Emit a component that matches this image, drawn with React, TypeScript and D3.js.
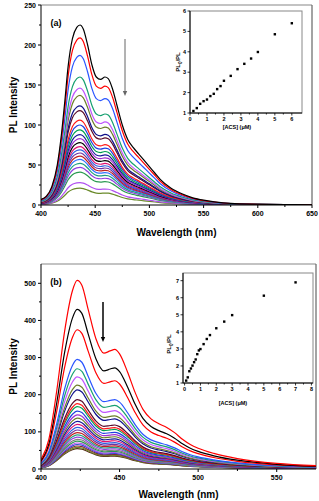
import React from 'react';
import * as d3 from 'd3';

// panel (a): black (top) curve, other curves scaled by peak
const waveA = [400, 405, 410, 415, 419, 422, 425, 429, 433, 436, 439, 443, 447, 451, 455, 459, 462, 466, 470, 475, 480, 485, 490, 495, 500, 505, 510, 520, 530, 540, 550, 560, 575, 600, 625, 650];
const topA = [7, 11, 23, 50, 90, 130, 173, 208, 222, 225, 220, 200, 175, 160, 157, 160, 158, 145, 125, 100, 82, 72, 64, 56, 48, 40, 32, 21, 14, 9, 6, 4, 2, 1, 0.5, 0.3];
const peaksA = [225, 209, 187, 160, 146, 137, 124, 118, 106, 100, 94, 88, 83, 78, 73, 69, 65, 61, 57, 52, 47, 41, 28, 21];
const colorsA = ['#000000', '#ff0000', '#2a55ff', '#17a070', '#c055ff', '#6d7d2a', '#10108a', '#5a0a2a', '#ff1a1a', '#2040e0', '#00a050', '#1a1a9a', '#a030d0', '#000000', '#e01070', '#3060e0', '#7030a0', '#c02020', '#3070ff', '#20a080', '#9040e0', '#2a9a50', '#b050f0', '#6a8a2a'];

// panel (b): red (top) curve
const waveB = [400, 405, 410, 415, 420, 423, 426, 430, 435, 440, 444, 447, 450, 455, 460, 465, 470, 475, 480, 485, 490, 495, 500, 510, 525, 550, 575];
const topB = [26, 80, 210, 370, 480, 508, 495, 430, 350, 312, 318, 322, 310, 262, 205, 160, 135, 122, 112, 98, 80, 66, 56, 42, 28, 15, 9];
const peaksB = [508, 430, 375, 295, 270, 248, 226, 213, 187, 176, 168, 156, 146, 137, 128, 120, 112, 105, 98, 92, 86, 80, 75, 70, 66, 62, 58, 55];
const colorsB = ['#ff0000', '#000000', '#ff0000', '#2a55ff', '#17a070', '#c055ff', '#6d7d2a', '#10108a', '#5a0a2a', '#ff1a1a', '#00a050', '#2040e0', '#a030d0', '#6d7d2a', '#1a1a9a', '#e01070', '#3060e0', '#7030a0', '#c02020', '#20a080', '#9040e0', '#808080', '#2a9a50', '#b050f0', '#3050d0', '#8a2a2a', '#6a8a2a', '#5a2a1a'];

// insets: PL0/PL vs [ACS]
const insetAx = [0.2, 0.4, 0.6, 0.8, 1.0, 1.2, 1.4, 1.6, 1.8, 2.0, 2.4, 2.8, 3.2, 3.6, 4.0, 5.0, 6.0];
const insetAy = [1.1, 1.24, 1.45, 1.58, 1.66, 1.83, 1.94, 2.17, 2.32, 2.58, 2.82, 3.15, 3.41, 3.67, 3.99, 4.86, 5.4];
const insetBx = [0.1, 0.2, 0.3, 0.4, 0.5, 0.6, 0.7, 0.8, 0.9, 1.0, 1.2, 1.4, 1.6, 2.0, 2.5, 3.0, 5.0, 7.0];
const insetBy = [1.14, 1.33, 1.69, 1.85, 2.02, 2.22, 2.38, 2.69, 2.91, 2.99, 3.28, 3.58, 3.81, 4.21, 4.6, 4.98, 6.12, 6.9];

const font = 'Liberation Sans, Arial, sans-serif';

type InsetProps = {
  xs: number[]; ys: number[]; box: { l: number; r: number; t: number; b: number };
  xDom: [number, number]; yDom: [number, number]; xTicks: number[]; yTicks: number[];
  xMinor: number[]; yLabelPos: [number, number]; xLabelPos: [number, number];
};

const Inset = (p: InsetProps) => {
  const x = d3.scaleLinear().domain(p.xDom).range([p.box.l, p.box.r]);
  const y = d3.scaleLinear().domain(p.yDom).range([p.box.b, p.box.t]);
  return (
    <g>
      <rect x={p.box.l} y={p.box.t} width={p.box.r - p.box.l} height={p.box.b - p.box.t} fill="#fff" stroke="#888" strokeWidth={1} />
      <line x1={p.box.l} x2={p.box.r} y1={p.box.b} y2={p.box.b} stroke="#000" />
      <line x1={p.box.l} x2={p.box.l} y1={p.box.t} y2={p.box.b} stroke="#000" />
      {p.xTicks.map(t => (
        <g key={'x' + t}>
          <line x1={x(t)} x2={x(t)} y1={p.box.b} y2={p.box.b + 2.5} stroke="#000" strokeWidth={0.8} />
          <text x={x(t)} y={p.box.b + 8} fontSize={5.5} fontWeight="bold" fontFamily={font} textAnchor="middle">{t}</text>
        </g>
      ))}
      {p.xMinor.map(t => (
        <line key={'m' + t} x1={x(t)} x2={x(t)} y1={p.box.b} y2={p.box.b + 1.5} stroke="#000" strokeWidth={0.8} />
      ))}
      {p.yTicks.map(t => (
        <g key={'y' + t}>
          <line x1={p.box.l - 2.5} x2={p.box.l} y1={y(t)} y2={y(t)} stroke="#000" strokeWidth={0.8} />
          <text x={p.box.l - 4} y={y(t) + 2} fontSize={5.5} fontWeight="bold" fontFamily={font} textAnchor="end">{t}</text>
        </g>
      ))}
      {p.xs.map((v, i) => (
        <rect key={i} x={x(v) - 1.2} y={y(p.ys[i]) - 1.2} width={2.4} height={2.4} fill="#000" />
      ))}
      <text transform={`translate(${p.yLabelPos[0]},${p.yLabelPos[1]}) rotate(-90)`} fontSize={6} fontWeight="bold" fontFamily={font} textAnchor="middle">
        PL<tspan fontSize={4.5} dy={1.5}>0</tspan><tspan dy={-1.5}>/PL</tspan>
      </text>
      <text x={p.xLabelPos[0]} y={p.xLabelPos[1]} fontSize={5.5} fontWeight="bold" fontFamily={font} textAnchor="middle">[ACS] (μM)</text>
    </g>
  );
};

type PanelProps = {
  wave: number[]; top: number[]; peaks: number[]; colors: string[];
  box: { l: number; r: number; t: number; b: number };
  xDom: [number, number]; yDom: [number, number];
  xTicks: number[]; xMinor: number[]; yTicks: number[]; yMinor: number[];
  label: string; arrow: { x: number; y1: number; y2: number; color: string; w: number };
  titleY: number; children?: React.ReactNode;
};

const Panel = (p: PanelProps) => {
  const x = d3.scaleLinear().domain(p.xDom).range([p.box.l, p.box.r]);
  const y = d3.scaleLinear().domain(p.yDom).range([p.box.b, p.box.t]);
  const top = p.peaks[0];
  const line = d3.line<number>()
    .x((_, i) => x(p.wave[i]))
    .y(d => y(d))
    .curve(d3.curveMonotoneX);
  const clipId = 'clip' + p.label;
  return (
    <g>
      <defs>
        <clipPath id={clipId}>
          <rect x={p.box.l} y={p.box.t} width={p.box.r - p.box.l} height={p.box.b - p.box.t} />
        </clipPath>
      </defs>
      <line x1={p.box.l} x2={p.box.r} y1={p.box.t} y2={p.box.t} stroke="#888" strokeWidth={1.2} />
      <line x1={p.box.r} x2={p.box.r} y1={p.box.t} y2={p.box.b} stroke="#666" strokeWidth={1.2} />
      <g clipPath={`url(#${clipId})`}>
        {p.peaks.map((pk, k) => k).reverse().map(k => (
          <path key={k} d={line(p.top.map(v => v * p.peaks[k] / top)) || ''} fill="none" stroke={p.colors[k % p.colors.length]} strokeWidth={1.2} />
        ))}
      </g>
      <line x1={p.box.l} x2={p.box.r} y1={p.box.b} y2={p.box.b} stroke="#000" strokeWidth={1} />
      <line x1={p.box.l} x2={p.box.l} y1={p.box.t} y2={p.box.b} stroke="#000" strokeWidth={1} />
      {p.xTicks.map(t => (
        <g key={'x' + t}>
          <line x1={x(t)} x2={x(t)} y1={p.box.b} y2={p.box.b + 3} stroke="#000" />
          <text x={x(t)} y={p.box.b + 11} fontSize={7} fontWeight="bold" fontFamily={font} textAnchor="middle">{t}</text>
        </g>
      ))}
      {p.xMinor.map(t => (
        <line key={'xm' + t} x1={x(t)} x2={x(t)} y1={p.box.b} y2={p.box.b + 2} stroke="#000" />
      ))}
      {p.yTicks.map(t => (
        <g key={'y' + t}>
          <line x1={p.box.l - 3} x2={p.box.l} y1={y(t)} y2={y(t)} stroke="#000" />
          <text x={p.box.l - 5} y={y(t) + 2.5} fontSize={7} fontWeight="bold" fontFamily={font} textAnchor="end">{t}</text>
        </g>
      ))}
      {p.yMinor.map(t => (
        <line key={'ym' + t} x1={p.box.l - 2} x2={p.box.l} y1={y(t)} y2={y(t)} stroke="#000" />
      ))}
      <text x={p.box.l + 15} y={p.box.t + 21} fontSize={9} fontWeight="bold" fontFamily={font} textAnchor="middle">({p.label})</text>
      <line x1={p.arrow.x} x2={p.arrow.x} y1={p.arrow.y1} y2={p.arrow.y2 - 4} stroke={p.arrow.color} strokeWidth={p.arrow.w} />
      <path d={`M${p.arrow.x - 2.2},${p.arrow.y2 - 5} L${p.arrow.x + 2.2},${p.arrow.y2 - 5} L${p.arrow.x},${p.arrow.y2} Z`} fill={p.arrow.color} />
      <text x={(p.box.l + p.box.r) / 2} y={p.titleY} fontSize={10} fontWeight="bold" fontFamily={font} textAnchor="middle">Wavelength (nm)</text>
      <text transform={`translate(17,${(p.box.t + p.box.b) / 2}) rotate(-90)`} fontSize={10} fontWeight="bold" fontFamily={font} textAnchor="middle">PL Intensity</text>
      {p.children}
    </g>
  );
};

export default function App() {
  return (
    <svg width={319} height={501} style={{ position: 'absolute', left: 0, top: 0, background: '#fff' }}>
      <rect width={319} height={501} fill="#fff" />
      <Panel
        wave={waveA} top={topA} peaks={peaksA} colors={colorsA}
        box={{ l: 41, r: 312, t: 5, b: 205 }}
        xDom={[400, 650]} yDom={[0, 250]}
        xTicks={[400, 450, 500, 550, 600, 650]} xMinor={[425, 475, 525, 575, 625]}
        yTicks={[0, 50, 100, 150, 200, 250]} yMinor={[25, 75, 125, 175, 225]}
        label="a" arrow={{ x: 125, y1: 39, y2: 96, color: '#666', w: 1 }}
        titleY={236}
      >
        <Inset
          xs={insetAx} ys={insetAy} box={{ l: 190, r: 302, t: 11, b: 113 }}
          xDom={[0, 6.6]} yDom={[1, 6]} xTicks={[0, 1, 2, 3, 4, 5, 6]} xMinor={[0.5, 1.5, 2.5, 3.5, 4.5, 5.5]}
          yTicks={[1, 2, 3, 4, 5, 6]} yLabelPos={[180, 62]} xLabelPos={[237, 129]}
        />
      </Panel>
      <Panel
        wave={waveB} top={topB} peaks={peaksB} colors={colorsB}
        box={{ l: 41, r: 316, t: 264, b: 469 }}
        xDom={[400, 575]} yDom={[0, 552]}
        xTicks={[400, 450, 500, 550]} xMinor={[425, 475, 525]}
        yTicks={[0, 100, 200, 300, 400, 500]} yMinor={[50, 150, 250, 350, 450]}
        label="b" arrow={{ x: 103, y1: 302, y2: 342, color: '#000', w: 1.5 }}
        titleY={498}
      >
        <Inset
          xs={insetBx} ys={insetBy} box={{ l: 183, r: 313, t: 273, b: 383 }}
          xDom={[-0.1, 8.1]} yDom={[1, 7.45]} xTicks={[0, 1, 2, 3, 4, 5, 6, 7, 8]} xMinor={[0.5, 1.5, 2.5, 3.5, 4.5, 5.5, 6.5, 7.5]}
          yTicks={[1, 2, 3, 4, 5, 6, 7]} yLabelPos={[171, 344]} xLabelPos={[233, 405]}
        />
      </Panel>
    </svg>
  );
}
